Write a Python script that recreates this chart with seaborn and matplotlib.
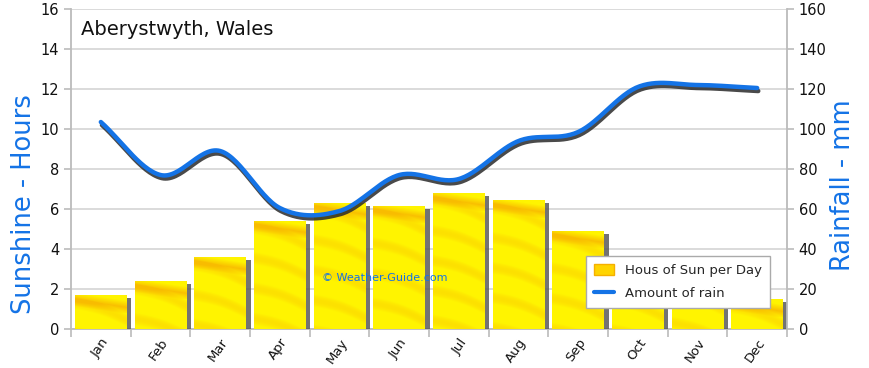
import numpy as np
import pandas as pd
import matplotlib
matplotlib.use("Agg")
import matplotlib.pyplot as plt
import matplotlib.patheffects as pe
from matplotlib.patches import Patch
from matplotlib.lines import Line2D
import seaborn as sns

months = ["Jan", "Feb", "Mar", "Apr", "May", "Jun", "Jul", "Aug", "Sep", "Oct", "Nov", "Dec"]
sun_hours = [1.7, 2.4, 3.6, 5.4, 6.3, 6.15, 6.8, 6.45, 4.9, 3.35, 2.2, 1.5]
rain_mm = [103.5, 77, 89, 60.5, 59, 77, 75, 94, 98.5, 121, 122, 120.5]
left_ticks = [0, 2, 4, 6, 8, 10, 12, 14, 16]
right_ticks = [0, 20, 40, 60, 80, 100, 120, 140, 160]

title = "Aberystwyth, Wales"
left_label = "Sunshine - Hours"
right_label = "Rainfall - mm"
watermark = "\u00a9 Weather-Guide.com"
legend_sun = "Hous of Sun per Day"
legend_rain = "Amount of rain"

sns.set_theme(style="white")
plt.rcParams["font.family"] = ["DejaVu Sans"]

BLUE = "#1473E6"
GRID = "#D4D4D4"

fig = plt.figure(figsize=(8.7, 3.68), dpi=100)
ax = fig.add_axes([71 / 870, 1 - 329 / 368, 716 / 870, 320 / 368])

df = pd.DataFrame({"month": months, "sun": sun_hours})
sns.barplot(data=df, x="month", y="sun", ax=ax, color="#FFF200", width=0.87,
            saturation=1, edgecolor="none", zorder=3)

# soft diagonal streak texture for bars (deterministic)
W = 60
base = np.array([1.0, 0.96, 0.0])
orange = np.array([0.97, 0.70, 0.0])

for bar in ax.patches:
    bar.set_path_effects([pe.SimplePatchShadow(offset=(3.2, -2.5), shadow_rgbFace="#5a5a5a", alpha=0.85),
                          pe.Normal()])
    x0 = bar.get_x()
    x1 = x0 + bar.get_width()
    h = bar.get_height()
    rows = max(int(h * 20), 2)
    yy, xx = np.mgrid[0:rows, 0:W]
    u = yy / 20.0 - 0.9 * (xx / W)
    s = 0.5 + 0.5 * np.sin(u * 4.2 + 0.6 * np.sin(xx / W * 3.0))
    a = np.clip(s - 0.6, 0, 1) * 0.75
    top = np.zeros((rows, W))
    band = min(18, rows)
    prof = np.clip(1.0 - np.abs((np.arange(band)[:, None] - 4 - 8 * xx[:band] / W) / 7.0), 0, 1)
    top[:band] = 0.8 * prof
    alpha = np.clip(a + top, 0, 0.85)[..., None]
    img = base * (1 - alpha) + orange * alpha
    im = ax.imshow(img, extent=[x0, x1, 0, h], origin="upper", aspect="auto",
                   zorder=3.5, interpolation="bilinear")
    im.set_clip_path(bar)

ax.set_xlim(-0.5, 11.5)
ax.set_ylim(0, 16)
ax.set_yticks(left_ticks)
ax.set_yticklabels([str(t) for t in left_ticks], fontsize=10.5, color="#111111")
ax.yaxis.grid(True, color=GRID, linewidth=1.2, zorder=0)
ax.xaxis.grid(False)
ax.set_axisbelow(True)
ax.set_xlabel("")
ax.set_ylabel(left_label, fontsize=18.5, color=BLUE)
ax.yaxis.set_label_coords(-0.047, 0.39)
ax.set_xticks(range(len(months)))
ax.set_xticklabels(months, rotation=55, ha="right", rotation_mode="anchor", fontsize=9.5, color="#111111")
ax.tick_params(axis="x", length=0, pad=5)
ax.set_xticks(np.arange(-0.5, 12, 1), minor=True)
ax.tick_params(axis="x", which="minor", length=6, color="#BBBBBB", width=1.2, bottom=True)
ax.tick_params(axis="y", length=5, color="#BBBBBB", left=True, width=1.2)
for s in ["top", "right"]:
    ax.spines[s].set_visible(False)
for s in ["left", "bottom"]:
    ax.spines[s].set_color("#BBBBBB")
    ax.spines[s].set_linewidth(1.3)

# smoothed rain line (Catmull-Rom through the data points)
def smooth(vals, n=30):
    p = np.asarray(vals, dtype=float)
    k = len(p)
    m = np.zeros(k)
    m[1:-1] = (p[2:] - p[:-2]) / 2
    m[0] = p[1] - p[0]
    m[-1] = p[-1] - p[-2]
    xs, ys = [], []
    for i in range(k - 1):
        t = np.linspace(0, 1, n, endpoint=False)
        h00 = 2 * t**3 - 3 * t**2 + 1
        h10 = t**3 - 2 * t**2 + t
        h01 = -2 * t**3 + 3 * t**2
        h11 = t**3 - t**2
        ys.append(h00 * p[i] + h10 * m[i] + h01 * p[i + 1] + h11 * m[i + 1])
        xs.append(i + t)
    xs.append(np.array([k - 1.0]))
    ys.append(np.array([p[-1]]))
    return np.concatenate(xs), np.concatenate(ys)

ax2 = ax.twinx()
sx, sy = smooth(rain_mm)
sns.lineplot(x=sx, y=sy, ax=ax2, color=BLUE, linewidth=3.2, sort=False, zorder=5,
             path_effects=[pe.SimpleLineShadow(offset=(0.8, -2.2), shadow_color="#2a2a2a", alpha=0.85),
                           pe.Normal()])
ax2.set_ylim(0, 160)
ax2.set_xlim(-0.5, 11.5)
ax2.set_yticks(right_ticks)
ax2.set_yticklabels([str(t) for t in right_ticks], fontsize=10.5, color="#111111")
ax2.tick_params(axis="y", length=5, color="#BBBBBB", right=True, width=1.2)
ax2.grid(False)
for s in ["top", "left", "bottom"]:
    ax2.spines[s].set_visible(False)
ax2.spines["right"].set_color("#BBBBBB")
ax2.spines["right"].set_linewidth(1.3)
ax2.set_ylabel(right_label, fontsize=18.5, color=BLUE, rotation=90)
ax2.yaxis.set_label_coords(1.060, 0.45)
ax2.set_xlabel("")

ax.text(0.014, 0.965, title, transform=ax.transAxes, fontsize=14, color="#111111",
        ha="left", va="top", zorder=10)
ax.text(0.4385, 0.16, watermark, transform=ax.transAxes, fontsize=8, color=BLUE,
        ha="center", va="center", zorder=10)

handles = [Patch(facecolor="#FFD400", edgecolor="#F5B000"),
           Line2D([0], [0], color=BLUE, linewidth=3)]
leg = ax2.legend(handles, [legend_sun, legend_rain], loc="lower right",
                 bbox_to_anchor=(0.985, 0.044), fontsize=9.5, frameon=True, fancybox=False,
                 edgecolor="#AAAAAA", framealpha=1, borderpad=0.6, labelspacing=0.8,
                 handlelength=1.5, handleheight=0.9, shadow=False)
leg.get_frame().set_linewidth(1.0)
leg.set_zorder(20)

fig.savefig("out.png", dpi=100)
